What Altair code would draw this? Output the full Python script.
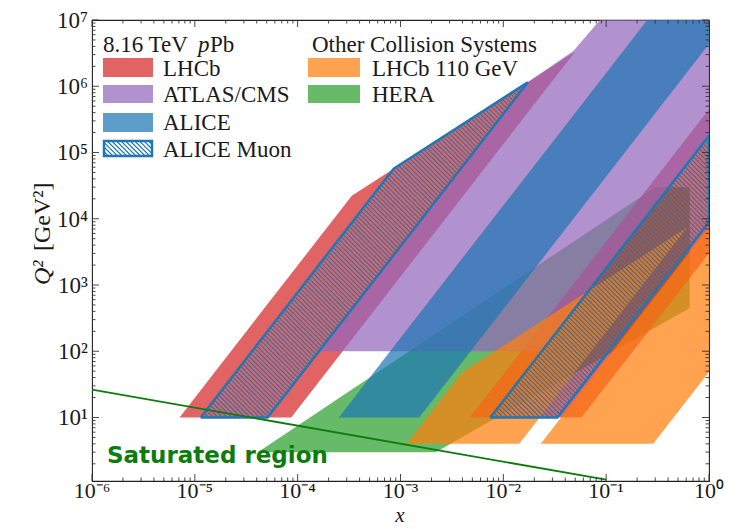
import altair as alt
import pandas as pd
import numpy as np

# ---------------- data ----------------
W, H = 617, 461
XMIN, XMAX = 1e-6, 1.0
YMIN, YMAX = 1.1, 1e7

x_major = [1e-6, 1e-5, 1e-4, 1e-3, 1e-2, 1e-1, 1.0]
x_labels = ["10⁻⁶", "10⁻⁵", "10⁻⁴", "10⁻³", "10⁻²", "10⁻¹", "10⁰"]
y_major = [1e1, 1e2, 1e3, 1e4, 1e5, 1e6, 1e7]
y_labels = ["10¹", "10²", "10³", "10⁴", "10⁵", "10⁶", "10⁷"]

# polygons: vertex x values and Q^2 values
hera_x = [4.1e-5, 2.2e-3, 0.65, 0.65, 0.30]
hera_q2 = [3.0, 3.0, 450.0, 3.0e4, 3.0e4]

lhcb_fwd_x = [7.10e-6, 8.65e-5, 0.0498, 3.36e-4]
lhcb_fwd_q2 = [10.0, 10.0, 3.32e6, 2.23e4]
lhcb_bwd_x = [4.72e-3, 0.0575, 1.0, 1.0]
lhcb_bwd_q2 = [10.0, 10.0, 3.02e3, 4.49e5]

atlas_x = [1.60e-4, 0.0238, 1.0, 1.0, 0.087, 0.048, 0.0171]
atlas_q2 = [100.0, 100.0, 1.77e5, 1.0e7, 1.0e7, 3.4e6, 1.14e6]

alice_x = [2.51e-4, 1.52e-3, 1.0, 1.0, 0.251]
alice_q2 = [10.0, 10.0, 4.34e6, 1.0e7, 1.0e7]

muon_fwd_x = [1.14e-5, 5.09e-5, 0.0173, 8.6e-4]
muon_fwd_q2 = [10.0, 10.0, 1.15e6, 5.72e4]
muon_bwd_x = [7.48e-3, 0.0335, 1.0, 1.0]
muon_bwd_q2 = [10.0, 10.0, 8.89e3, 1.79e5]

smog_fwd_x = [1.15e-3, 0.0143, 0.619, 4.0e-3]
smog_fwd_q2 = [4.0, 4.0, 7.49e3, 48.4]
smog_bwd_x = [0.0231, 0.287, 1.0, 1.0]
smog_bwd_q2 = [4.0, 4.0, 48.4, 7.49e3]

sat_x = [1e-6, 0.1]
sat_q2 = [26.4, 1.15]

RED, PURPLE, BLUE, ORANGE, GREEN = "#d62728", "#9467bd", "#1f77b4", "#ff7f0e", "#2ca02c"
ALPHA = 0.72
SERIF = "Liberation Serif"
TXT = "#1a1a1a"

# ---------------- helpers ----------------
xscale = alt.Scale(type="log", domain=[XMIN, XMAX])
yscale = alt.Scale(type="log", domain=[YMIN, YMAX])
LX0, LX1 = np.log10(XMIN), np.log10(XMAX)
LY0, LY1 = np.log10(YMIN), np.log10(YMAX)


def X(field):
    return alt.X(field, scale=xscale, axis=None)


def Y(field):
    return alt.Y(field, scale=yscale, axis=None)


def to_px(x, q):
    return (np.log10(x) - LX0) / (LX1 - LX0) * W, (LY1 - np.log10(q)) / (LY1 - LY0) * H


def from_px(px, py):
    return 10 ** (LX0 + px / W * (LX1 - LX0)), 10 ** (LY1 - py / H * (LY1 - LY0))


def poly_df(xs, qs):
    return pd.DataFrame({"x": list(xs) + [xs[0]], "q2": list(qs) + [qs[0]],
                         "i": list(range(len(xs) + 1))})


def polygon(xs, qs, color, opacity=ALPHA):
    return alt.Chart(poly_df(xs, qs)).mark_line(
        fill=color, fillOpacity=opacity, strokeOpacity=0, strokeWidth=0, clip=True
    ).encode(x=X("x:Q"), y=Y("q2:Q"), order="i:Q")


def outline(xs, qs, color, width=2.5):
    return alt.Chart(poly_df(xs, qs)).mark_line(
        color=color, strokeWidth=width, clip=True, strokeJoin="miter"
    ).encode(x=X("x:Q"), y=Y("q2:Q"), order="i:Q")


def hatch_px(pts, step):
    """diagonal '\\' lines (py - px = c) clipped to a convex pixel polygon"""
    vals = [p[1] - p[0] for p in pts]
    segs = []
    c = np.ceil(min(vals) / step) * step
    while c < max(vals):
        hits = []
        n = len(pts)
        for k in range(n):
            (x1, y1), (x2, y2) = pts[k], pts[(k + 1) % n]
            f1, f2 = y1 - x1 - c, y2 - x2 - c
            if (f1 <= 0 < f2) or (f2 <= 0 < f1):
                t = f1 / (f1 - f2)
                hits.append((x1 + t * (x2 - x1), y1 + t * (y2 - y1)))
        if len(hits) >= 2:
            hits.sort()
            segs.append((hits[0], hits[-1]))
        c += step
    return segs


def hatch_layer(segs_px, color, width):
    rows = []
    for (a, b) in segs_px:
        xa_, ya_ = from_px(*a)
        xb_, yb_ = from_px(*b)
        rows.append({"x1": xa_, "y1": ya_, "x2": xb_, "y2": yb_})
    return alt.Chart(pd.DataFrame(rows)).mark_rule(color=color, strokeWidth=width, clip=True).encode(
        x=X("x1:Q"), y=Y("y1:Q"), x2="x2:Q", y2="y2:Q")


def text(t, x, y, size=23, font=SERIF, style="normal", weight="normal", color=TXT,
         align="left", baseline="alphabetic", angle=0):
    return alt.Chart(pd.DataFrame({"a": [0]})).mark_text(
        text=t, font=font, fontSize=size, fontStyle=style, fontWeight=weight, color=color,
        align=align, baseline=baseline, angle=angle
    ).encode(x=alt.value(x), y=alt.value(y))


def rect(x1, x2, y1, y2, color, opacity=1.0, stroke=None, sw=0):
    kw = dict(color=color, opacity=opacity)
    if stroke is not None:
        kw = dict(fill=color, fillOpacity=opacity, stroke=stroke, strokeWidth=sw)
    return alt.Chart(pd.DataFrame({"a": [0]})).mark_rect(**kw).encode(
        x=alt.value(x1), x2=alt.value(x2), y=alt.value(y1), y2=alt.value(y2))


layers = []
layers.append(polygon(hera_x, hera_q2, GREEN))
layers.append(polygon(lhcb_fwd_x, lhcb_fwd_q2, RED))
layers.append(polygon(lhcb_bwd_x, lhcb_bwd_q2, RED))
layers.append(polygon(atlas_x, atlas_q2, PURPLE))
layers.append(polygon(alice_x, alice_q2, BLUE))
layers.append(polygon(smog_fwd_x, smog_fwd_q2, ORANGE))
layers.append(polygon(smog_bwd_x, smog_bwd_q2, ORANGE))

# ALICE Muon hatch + outline
segs = []
for xs, qs in [(muon_fwd_x, muon_fwd_q2), (muon_bwd_x, muon_bwd_q2)]:
    pts = [to_px(a, b) for a, b in zip(xs, qs)]
    segs += hatch_px(pts, 4.6)
layers.append(hatch_layer(segs, BLUE, 1.1))
layers.append(outline(muon_fwd_x, muon_fwd_q2, BLUE))
layers.append(outline(muon_bwd_x, muon_bwd_q2, BLUE))

# saturation line
layers.append(alt.Chart(pd.DataFrame({"x": sat_x, "q2": sat_q2})).mark_line(
    color="#0c7c0c", strokeWidth=1.8, clip=True).encode(x=X("x:Q"), y=Y("q2:Q")))
layers.append(text("Saturated region", 15, 443, size=23, font="DejaVu Sans", weight="bold", color="#0c7c0c"))

# ticks (inward, all four sides)
x_minor = [m * 10.0 ** k for k in range(-6, 0) for m in range(2, 10)]
y_minor = [m * 10.0 ** k for k in range(0, 7) for m in range(2, 10) if m * 10.0 ** k >= YMIN]
tick_color = "#333333"
for vals, ln in [(x_major, 7), (x_minor, 3.5)]:
    d = pd.DataFrame({"x": vals})
    layers.append(alt.Chart(d).mark_rule(color=tick_color, strokeWidth=0.9).encode(
        x=X("x:Q"), y=alt.value(H), y2=alt.value(H - ln)))
    layers.append(alt.Chart(d).mark_rule(color=tick_color, strokeWidth=0.9).encode(
        x=X("x:Q"), y=alt.value(0), y2=alt.value(ln)))
for vals, ln in [(y_major, 7), (y_minor, 3.5)]:
    d = pd.DataFrame({"q2": vals})
    layers.append(alt.Chart(d).mark_rule(color=tick_color, strokeWidth=0.9).encode(
        y=Y("q2:Q"), x=alt.value(0), x2=alt.value(ln)))
    layers.append(alt.Chart(d).mark_rule(color=tick_color, strokeWidth=0.9).encode(
        y=Y("q2:Q"), x=alt.value(W), x2=alt.value(W - ln)))

# tick labels
layers.append(alt.Chart(pd.DataFrame({"x": x_major, "t": x_labels})).mark_text(
    font=SERIF, fontSize=22, color=TXT, align="center", baseline="alphabetic").encode(
    x=X("x:Q"), y=alt.value(H + 17), text="t:N"))
layers.append(alt.Chart(pd.DataFrame({"q2": y_major, "t": y_labels})).mark_text(
    font=SERIF, fontSize=23, color=TXT, align="right", baseline="alphabetic", dy=8).encode(
    y=Y("q2:Q"), x=alt.value(-4), text="t:N"))

# legend
layers.append(text("8.16 TeV", 11, 32))
layers.append(text("p", 106, 32, style="italic"))
layers.append(text("Pb", 118, 32))
leg_left = [("LHCb", RED, 38, 57, 56), ("ATLAS/CMS", PURPLE, 65, 83, 82), ("ALICE", BLUE, 93, 112, 110)]
for lab, col, y1, y2, yb in leg_left:
    layers.append(rect(11, 61, y1, y2, col, ALPHA))
    layers.append(text(lab, 71, yb))
# ALICE Muon swatch
layers.append(rect(12, 60, 121, 136, "white", 1.0, stroke=BLUE, sw=2.5))
sw_pts = [(12, 121), (60, 121), (60, 136), (12, 136)]
for (a, b) in hatch_px(sw_pts, 4.6):
    layers.append(alt.Chart(pd.DataFrame({"a": [0]})).mark_rule(color=BLUE, strokeWidth=1.1).encode(
        x=alt.value(a[0]), y=alt.value(a[1]), x2=alt.value(b[0]), y2=alt.value(b[1])))
layers.append(text("ALICE Muon", 71, 137))

layers.append(text("Other Collision Systems", 220, 32))
for lab, col, y1, y2, yb in [("LHCb 110 GeV", ORANGE, 38, 57, 56), ("HERA", GREEN, 65, 83, 82)]:
    layers.append(rect(216, 268, y1, y2, col, ALPHA))
    layers.append(text(lab, 280, yb))

# axis titles
layers.append(text("x", 308, 502, style="italic", size=21, align="center"))
layers.append(text("Q²", -42, 265, style="italic", size=24, angle=270))
layers.append(text("[GeV²]", -42, 231, size=24, angle=270))

chart = alt.layer(*layers).properties(
    width=W, height=H,
    autosize=alt.AutoSizeParams(type="none"),
    padding={"left": 92, "top": 20, "right": 29, "bottom": 48},
    background="white",
).configure_view(stroke="#222222", strokeWidth=1.1)

chart.save("out.html", embed_options={"renderer": "svg", "actions": False})
